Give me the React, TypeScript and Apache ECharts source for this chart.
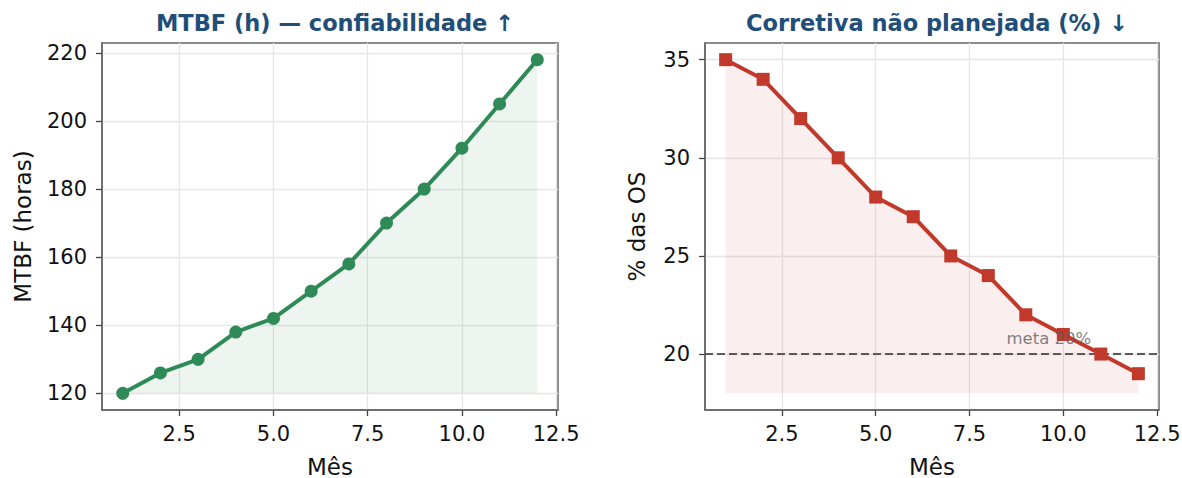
import React, { useEffect, useRef } from "react";
import * as echarts from "echarts";

const months = [1, 2, 3, 4, 5, 6, 7, 8, 9, 10, 11, 12];
const mtbf = [120, 126, 130, 138, 142, 150, 158, 170, 180, 192, 205, 218];
const corretiva = [35, 34, 32, 30, 28, 27, 25, 24, 22, 21, 20, 19];
const xTicks = [2.5, 5.0, 7.5, 10.0, 12.5];
const yTicksLeft = [120, 140, 160, 180, 200, 220];
const yTicksRight = [20, 25, 30, 35];
const meta = 20;
const fillBaseRight = 18;
const metaLabelPos = [8.5, 20.5];

const titleLeft = "MTBF (h) — confiabilidade ↑";
const titleRight = "Corretiva não planejada (%) ↓";

const FONT = "DejaVu Sans";
const GREEN = "#2e8b57";
const RED = "#c0392b";
const TXT = "#111";
const TICK_FS = 21;
const NAME_FS = 23;

function xAxis(gridIndex: number) {
  return {
    type: "value",
    gridIndex,
    min: 0.45,
    max: 12.55,
    name: "Mês",
    nameLocation: "middle",
    nameGap: 45,
    nameTextStyle: { fontFamily: FONT, fontSize: NAME_FS, color: TXT },
    axisLine: { show: true, lineStyle: { color: "#666", width: 1.5 } },
    axisTick: { show: true, length: 6, lineStyle: { color: "#444", width: 1.3 }, customValues: xTicks },
    axisLabel: {
      fontFamily: FONT,
      fontSize: TICK_FS,
      color: TXT,
      margin: 13,
      customValues: xTicks,
      formatter: (v: number) => v.toFixed(1),
    },
    splitLine: { show: true, lineStyle: { color: "#e6e6e6", width: 1.3 } },
  };
}

function yAxis(gridIndex: number, min: number, max: number, ticks: number[], name: string, nameGap: number) {
  return {
    type: "value",
    gridIndex,
    min,
    max,
    name,
    nameLocation: "middle",
    nameRotate: 90,
    nameGap,
    nameTextStyle: { fontFamily: FONT, fontSize: NAME_FS, color: TXT },
    axisLine: { show: true, lineStyle: { color: "#666", width: 1.5 } },
    axisTick: { show: true, length: 6, lineStyle: { color: "#444", width: 1.3 }, customValues: ticks },
    axisLabel: { fontFamily: FONT, fontSize: TICK_FS, color: TXT, margin: 15, customValues: ticks },
    splitLine: { show: true, lineStyle: { color: "#e6e6e6", width: 1.3 } },
  };
}

export default function App() {
  const ref = useRef<HTMLDivElement>(null);
  useEffect(() => {
    if (!ref.current) return;
    const chart = echarts.init(ref.current, undefined, { renderer: "svg" });
    chart.setOption({
      animation: false,
      backgroundColor: "#ffffff",
      title: [
        {
          text: titleLeft,
          left: 330,
          top: 6,
          textAlign: "center",
          textStyle: { fontFamily: FONT, fontSize: 22.5, fontWeight: "bold", color: "#1f4e79" },
        },
        {
          text: titleRight,
          left: 932,
          top: 6,
          textAlign: "center",
          textStyle: { fontFamily: FONT, fontSize: 22.5, fontWeight: "bold", color: "#1f4e79" },
        },
      ],
      grid: [
        { left: 102, top: 43, width: 456, height: 367, outerBoundsMode: "none", containLabel: false, show: true, borderColor: "#666", borderWidth: 1.5, backgroundColor: "transparent" },
        { left: 705, top: 43, width: 454, height: 367, outerBoundsMode: "none", containLabel: false, show: true, borderColor: "#666", borderWidth: 1.5, backgroundColor: "transparent" },
      ],
      xAxis: [xAxis(0), xAxis(1)],
      yAxis: [
        yAxis(0, 115.1, 222.9, yTicksLeft, "MTBF (horas)", 68),
        yAxis(1, 17.15, 35.85, yTicksRight, "% das OS", 57),
      ],
      series: [
        {
          type: "line",
          xAxisIndex: 0,
          yAxisIndex: 0,
          data: months.map((m, i) => [m, mtbf[i]]),
          symbol: "circle",
          symbolSize: 13,
          lineStyle: { color: GREEN, width: 4 },
          itemStyle: { color: GREEN },
          areaStyle: { color: "rgba(46,139,87,0.12)", origin: mtbf[0] },
          z: 3,
        },
        {
          type: "line",
          xAxisIndex: 1,
          yAxisIndex: 1,
          data: months.map((m, i) => [m, corretiva[i]]),
          symbol: "rect",
          symbolSize: 13,
          lineStyle: { color: RED, width: 4 },
          itemStyle: { color: RED },
          areaStyle: { color: "rgba(192,57,43,0.12)", origin: fillBaseRight },
          z: 3,
          markLine: {
            silent: true,
            symbol: "none",
            label: { show: false },
            lineStyle: { color: "#5a5a5a", width: 2, type: [8, 4] },
            data: [{ yAxis: meta }],
            z: 2,
          },
        },
        {
          type: "scatter",
          xAxisIndex: 1,
          yAxisIndex: 1,
          data: [metaLabelPos],
          symbolSize: 1,
          itemStyle: { color: "rgba(0,0,0,0)" },
          label: {
            show: true,
            formatter: "meta 20%",
            position: [0, 0],
            offset: [0, 3],
            align: "left",
            verticalAlign: "bottom",
            fontFamily: FONT,
            fontSize: 16.5,
            color: "#5e5e5e",
          },
          z: 4,
        },
      ],
    });
    return () => chart.dispose();
  }, []);
  return <div ref={ref} style={{ position: "fixed", left: 0, top: 0, width: 1182, height: 478 }} />;
}
